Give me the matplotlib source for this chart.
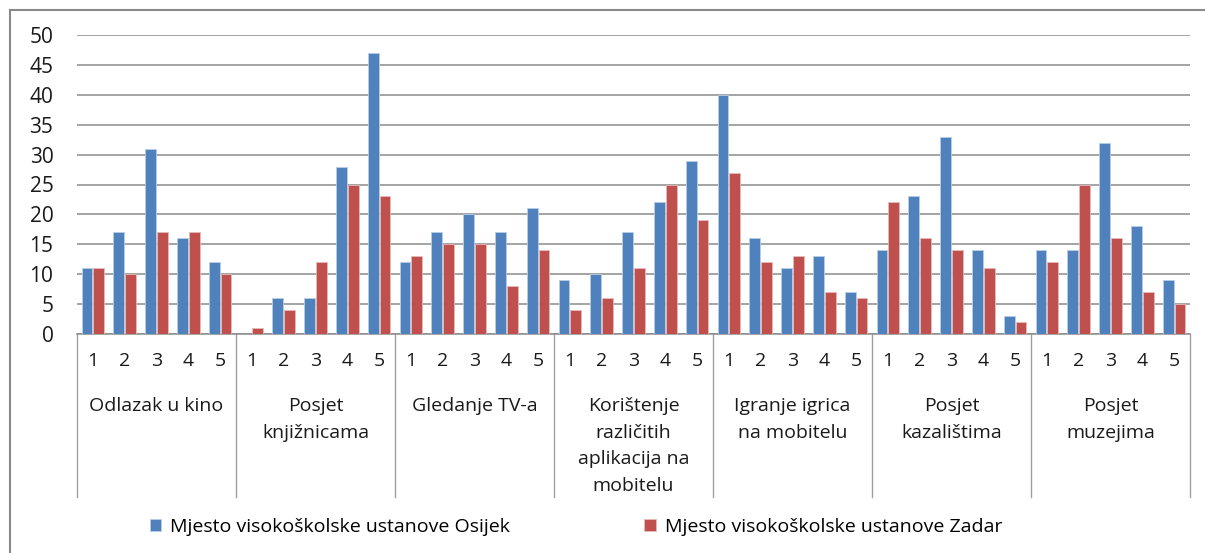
import numpy as np
import matplotlib
matplotlib.use("Agg")
import matplotlib.pyplot as plt
from matplotlib.lines import Line2D

# Survey answers (1-5) per leisure activity, two university towns
activities = [
    "Odlazak u kino",
    "Posjet\nknjižnicama",
    "Gledanje TV-a",
    "Korištenje\nrazličitih\naplikacija na\nmobitelu",
    "Igranje igrica\nna mobitelu",
    "Posjet\nkazalištima",
    "Posjet\nmuzejima",
]
grades = ["1", "2", "3", "4", "5"]

osijek = [
    11, 17, 31, 16, 12,
    0, 6, 6, 28, 47,
    12, 17, 20, 17, 21,
    9, 10, 17, 22, 29,
    40, 16, 11, 13, 7,
    14, 23, 33, 14, 3,
    14, 14, 32, 18, 9,
]
zadar = [
    11, 10, 17, 17, 10,
    1, 4, 12, 25, 23,
    13, 15, 15, 8, 14,
    4, 6, 11, 25, 19,
    27, 12, 13, 7, 6,
    22, 16, 14, 11, 2,
    12, 25, 16, 7, 5,
]
series_names = [
    "Mjesto visokoškolske ustanove Osijek",
    "Mjesto visokoškolske ustanove Zadar",
]

BLUE = "#4F81BD"
RED = "#C0504D"
GRID = "#8C8C8C"
TEXT = "#1A1A1A"
FS = 14

W, H = 1205, 553
fig = plt.figure(figsize=(W / 100, H / 100), dpi=100)
plt.rcParams["font.family"] = "Open Sans"

# axes box in pixel coordinates
left, right, top, bottom = 77, 1190, 35, 334
ax = fig.add_axes([left / W, 1 - bottom / H, (right - left) / W, (bottom - top) / H])

x = np.arange(len(osijek))
bw = 0.34
b1 = ax.bar(x - 0.185, osijek, bw, color=BLUE, edgecolor="#B9CDE5", linewidth=0.6,
            label=series_names[0], zorder=3)
b2 = ax.bar(x + 0.185, zadar, bw, color=RED, edgecolor="#E6B9B8", linewidth=0.6,
            label=series_names[1], zorder=3)

ax.set_xlim(-0.5, len(osijek) - 0.5)
ax.set_ylim(0, 50)
ax.set_yticks(range(0, 51, 5))
ax.yaxis.grid(True, color=GRID, linewidth=1.1, zorder=0)
for s in ["top", "right", "left"]:
    ax.spines[s].set_visible(False)
ax.spines["bottom"].set_color(GRID)
ax.spines["bottom"].set_linewidth(1.1)
ax.tick_params(axis="y", length=0, pad=17, labelsize=FS + 1, labelcolor=TEXT)
ax.set_xticks([])

# two-level category axis under the bars
trans = ax.get_xaxis_transform()
ax_h = bottom - top
sep_bottom = -(497 - bottom) / ax_h
for g in range(len(activities) + 1):
    xb = g * len(grades) - 0.5
    ax.add_line(Line2D([xb, xb], [0, sep_bottom], transform=trans, color="#A0A0A0",
                       linewidth=1.0, clip_on=False))
for i in x:
    ax.text(i, -(361 - bottom) / ax_h, grades[i % len(grades)], transform=trans,
            ha="center", va="center", fontsize=FS, color=TEXT)
for g, name in enumerate(activities):
    xc = g * len(grades) + 2
    ax.text(xc, -(397 - bottom) / ax_h, name, transform=trans, ha="center", va="top",
            fontsize=FS, color=TEXT, linespacing=1.62)

# outer chart frame
fig.add_artist(Line2D([10 / W, 10 / W], [0, 1 - 10 / H], color="#8A8A8A", linewidth=1.5))
fig.add_artist(Line2D([10 / W, 1], [1 - 10 / H, 1 - 10 / H], color="#8A8A8A", linewidth=1.5))

fig.legend(handles=[b1, b2], loc="center", bbox_to_anchor=(0.478, 1 - 527 / H), ncol=2,
           frameon=False, fontsize=FS, handlelength=0.6, handleheight=0.6,
           handletextpad=0.45, columnspacing=6.9)

fig.savefig("out.png", dpi=100)
